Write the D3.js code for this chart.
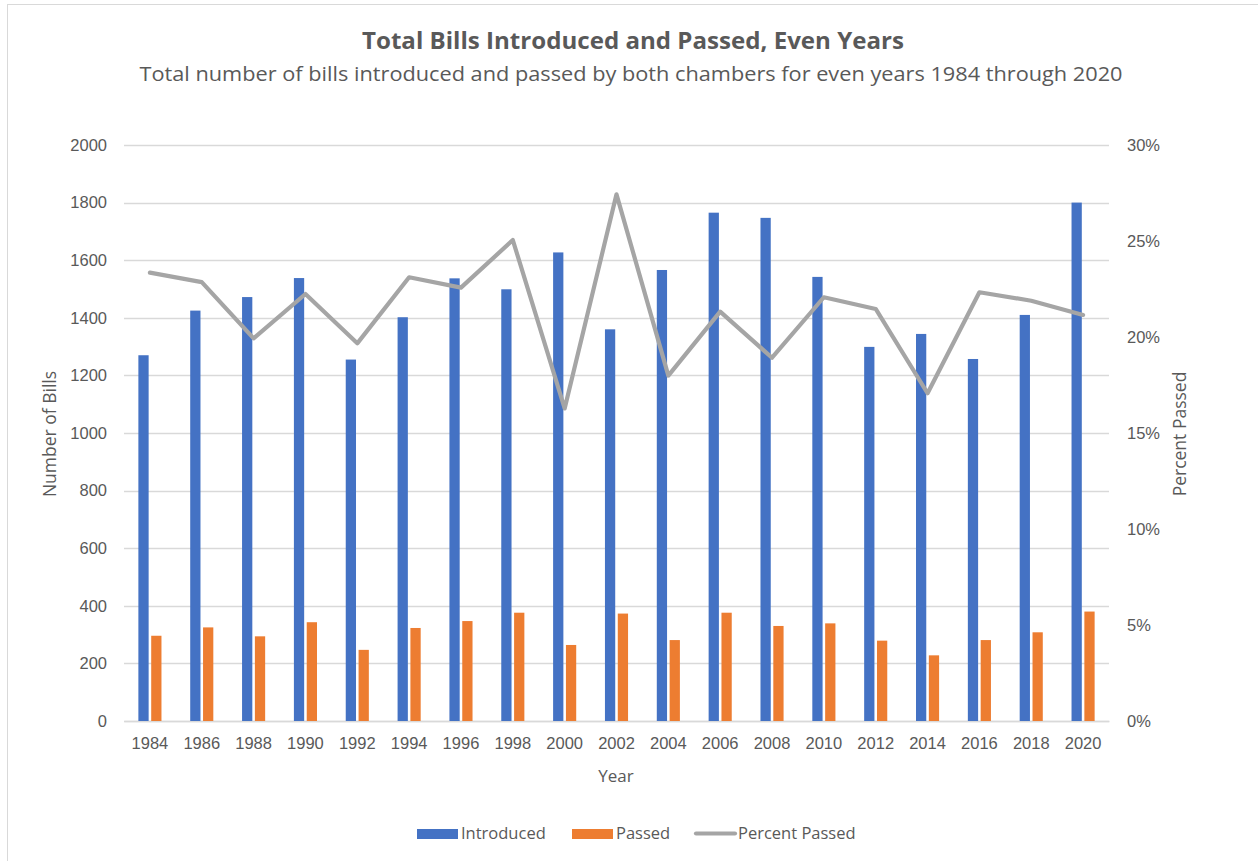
<!DOCTYPE html>
<html>
<head>
<meta charset="utf-8">
<script src="https://cdn.jsdelivr.net/npm/d3@7"></script>
<style>
  html, body { margin: 0; padding: 0; background: #fff; }
  svg { display: block; font-family: "Open Sans", "Noto Sans", sans-serif; }
</style>
</head>
<body>
<svg id="chart" width="1258" height="861"></svg>
<script>
const years = ["1984","1986","1988","1990","1992","1994","1996","1998","2000","2002","2004","2006","2008","2010","2012","2014","2016","2018","2020"];
const introduced = [1270,1425,1472,1538,1255,1402,1537,1499,1627,1360,1566,1765,1747,1542,1299,1344,1257,1410,1800];
const passed = [296,325,294,343,247,323,347,376,264,373,281,376,330,339,279,228,281,308,380];
const percentPassed = [0.2335,0.2286,0.1993,0.2224,0.1967,0.2311,0.2257,0.2505,0.1628,0.2743,0.1799,0.2132,0.1892,0.2207,0.2146,0.1707,0.2233,0.2189,0.2115];
const leftTicks = [0,200,400,600,800,1000,1200,1400,1600,1800,2000];
const rightTicks = [0,0.05,0.10,0.15,0.20,0.25,0.30];

const textColor = "#595959";
const gridColor = "#d9d9d9";
const colors = { introduced: "#4472C4", passed: "#ED7D31", percent: "#A5A5A5" };

const svg = d3.select("#chart");
const m = { left: 124, right: 1109, top: 145, bottom: 721 };

// frame
svg.append("rect").attr("x", 7.5).attr("y", 4.5).attr("width", 1300).attr("height", 900)
  .attr("fill", "#fff").attr("stroke", gridColor).attr("stroke-width", 1);

const x = d3.scaleBand().domain(years).range([m.left, m.right]).paddingInner(0).paddingOuter(0);
const inner = d3.scaleBand().domain(["introduced","passed"]).range([0, x.bandwidth()]).paddingInner(0.2).paddingOuter(1.12);
const y = d3.scaleLinear().domain([0, 2000]).range([m.bottom, m.top]);
const y2 = d3.scaleLinear().domain([0, 0.30]).range([m.bottom, m.top]);

// gridlines
svg.append("g").selectAll("line").data(leftTicks).join("line")
  .attr("x1", m.left).attr("x2", m.right)
  .attr("y1", d => Math.round(y(d)) + 0.5).attr("y2", d => Math.round(y(d)) + 0.5)
  .attr("stroke", gridColor).attr("stroke-width", 1.3);

const tickFont = 16.5;

// left axis
const leftAxis = d3.axisLeft(y).tickValues(leftTicks).tickSize(0).tickPadding(17).tickFormat(d3.format("d"));
const gL = svg.append("g").attr("transform", `translate(${m.left},0)`).call(leftAxis);
gL.select(".domain").remove();
gL.selectAll("text").attr("fill", textColor).attr("font-size", tickFont).style("font-family", "inherit");

// right axis
const rightAxis = d3.axisRight(y2).tickValues(rightTicks).tickSize(0).tickPadding(18).tickFormat(d3.format(".0%"));
const gR = svg.append("g").attr("transform", `translate(${m.right},0)`).call(rightAxis);
gR.select(".domain").remove();
gR.selectAll("text").attr("fill", textColor).attr("font-size", tickFont).style("font-family", "inherit");

// x axis
const xAxis = d3.axisBottom(x).tickSize(0).tickPadding(16);
const gX = svg.append("g").attr("transform", `translate(0,${m.bottom})`).call(xAxis);
gX.select(".domain").attr("stroke", gridColor).attr("stroke-width", 1.3);
gX.selectAll("text").attr("fill", textColor).attr("font-size", tickFont).style("font-family", "inherit");

// bars
const rows = years.map((yr, i) => ({ yr, introduced: introduced[i], passed: passed[i] }));
const groups = svg.append("g").selectAll("g").data(rows).join("g")
  .attr("transform", d => `translate(${x(d.yr)},0)`);
groups.selectAll("rect").data(d => ["introduced","passed"].map(k => ({ k, v: d[k] }))).join("rect")
  .attr("x", d => inner(d.k))
  .attr("width", inner.bandwidth())
  .attr("y", d => y(d.v))
  .attr("height", d => y(0) - y(d.v))
  .attr("fill", d => colors[d.k]);

// percent line
const line = d3.line().x((d, i) => x(years[i]) + x.bandwidth() / 2).y(d => y2(d));
svg.append("path").datum(percentPassed).attr("d", line)
  .attr("fill", "none").attr("stroke", colors.percent).attr("stroke-width", 4.2)
  .attr("stroke-linejoin", "round").attr("stroke-linecap", "round");

// titles
svg.append("text").attr("x", 633).attr("y", 49).attr("text-anchor", "middle")
  .attr("fill", textColor).attr("font-size", 23).attr("font-weight", "bold")
  .attr("textLength", 542).attr("lengthAdjust", "spacingAndGlyphs")
  .text("Total Bills Introduced and Passed, Even Years");
svg.append("text").attr("x", 631).attr("y", 81).attr("text-anchor", "middle")
  .attr("fill", textColor).attr("font-size", 20.5)
  .attr("textLength", 983).attr("lengthAdjust", "spacingAndGlyphs")
  .text("Total number of bills introduced and passed by both chambers for even years 1984 through 2020");

// axis titles
svg.append("text").attr("transform", "translate(56,434) rotate(-90)").attr("text-anchor", "middle")
  .attr("fill", textColor).attr("font-size", 17.5).text("Number of Bills");
svg.append("text").attr("transform", "translate(1186,434) rotate(-90)").attr("text-anchor", "middle")
  .attr("fill", textColor).attr("font-size", 17.5).text("Percent Passed");
svg.append("text").attr("x", 616).attr("y", 782).attr("text-anchor", "middle")
  .attr("fill", textColor).attr("font-size", 17).text("Year");

// legend
const legend = svg.append("g");
const items = [
  { label: "Introduced", type: "rect", color: colors.introduced, x: 417 },
  { label: "Passed", type: "rect", color: colors.passed, x: 572 },
  { label: "Percent Passed", type: "line", color: colors.percent, x: 694 }
];
items.forEach(it => {
  if (it.type === "rect") {
    legend.append("rect").attr("x", it.x).attr("y", 829).attr("width", 41).attr("height", 10).attr("fill", it.color);
  } else {
    legend.append("line").attr("x1", it.x + 2).attr("x2", it.x + 41).attr("y1", 833.5).attr("y2", 833.5)
      .attr("stroke", it.color).attr("stroke-width", 4.2).attr("stroke-linecap", "round");
  }
  legend.append("text").attr("x", it.x + 44).attr("y", 839).attr("fill", textColor)
    .attr("font-size", 16.5).text(it.label);
});
</script>
</body>
</html>
